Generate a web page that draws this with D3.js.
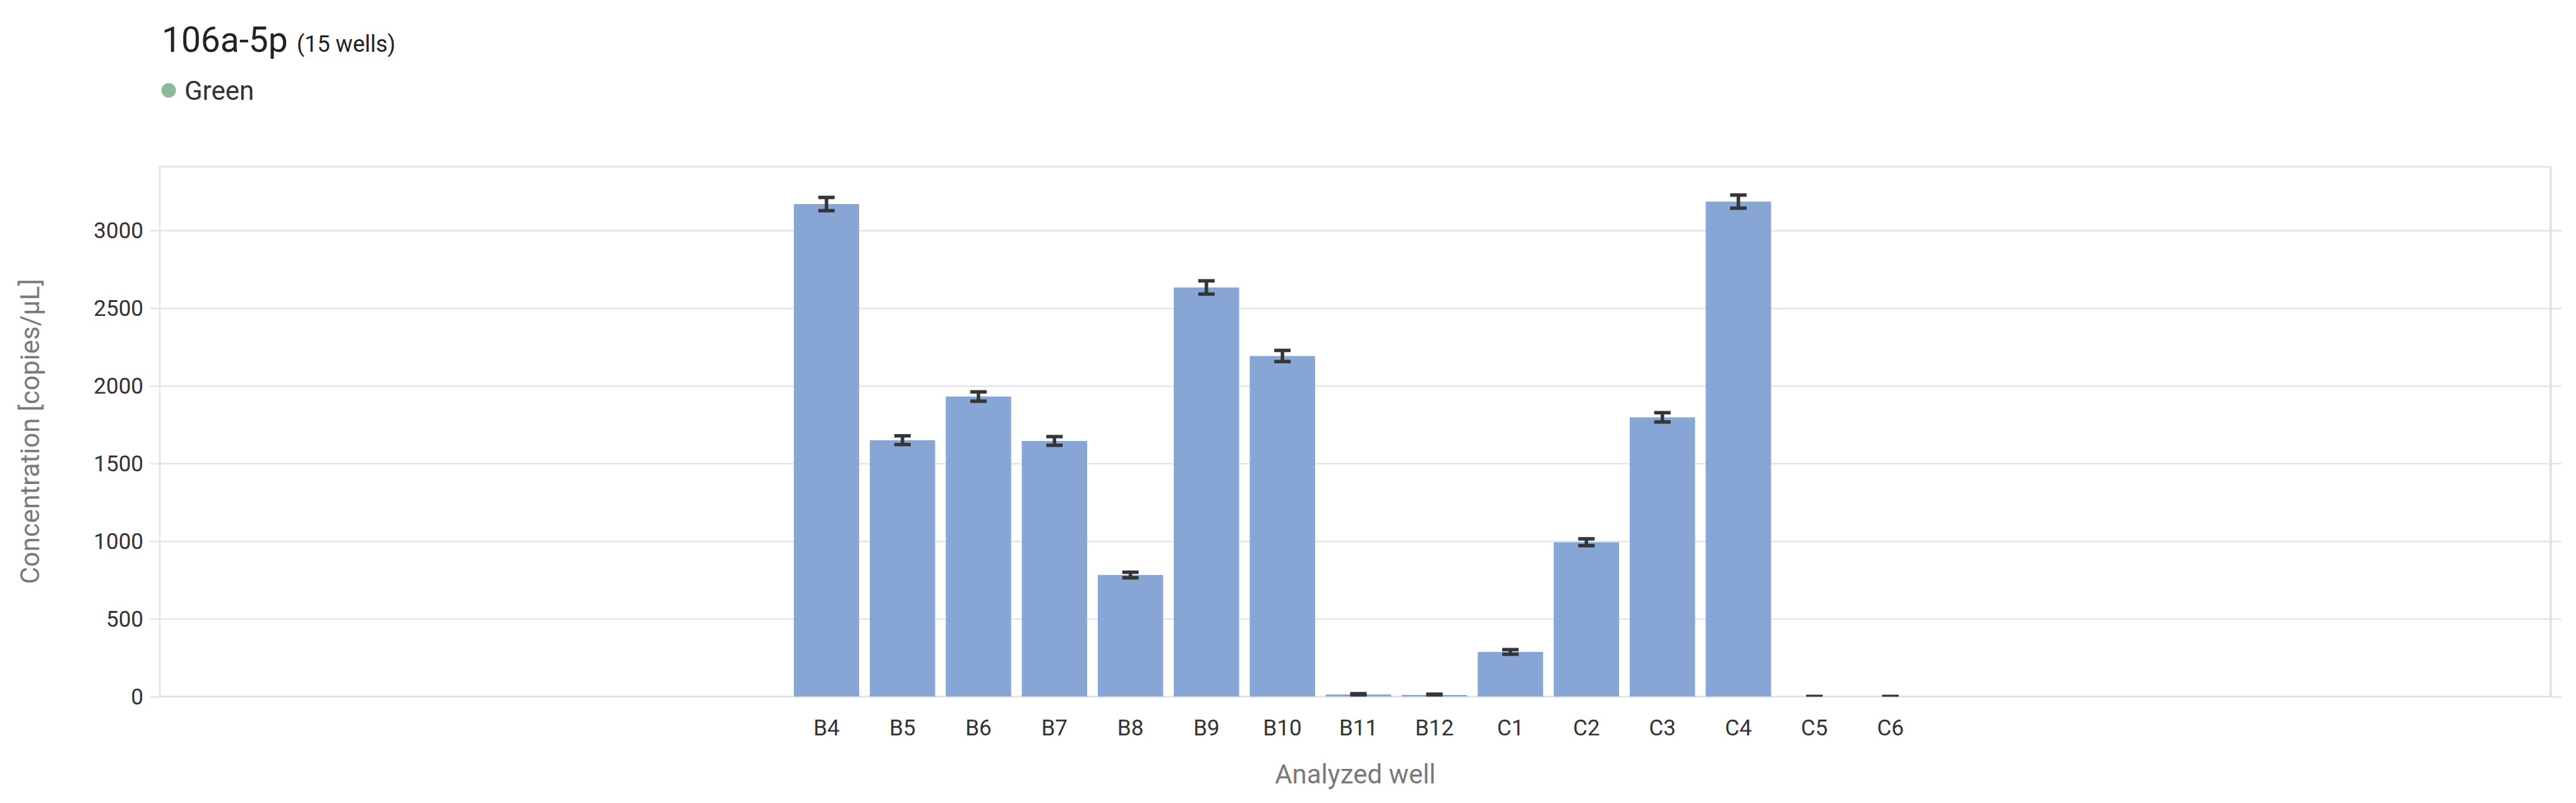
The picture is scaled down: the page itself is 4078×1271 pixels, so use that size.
<!DOCTYPE html>
<html>
<head>
<meta charset="utf-8">
<script src="https://cdn.jsdelivr.net/npm/d3@7"></script>
<style>
  body { margin: 0; background: #fff; }
  text { font-family: Roboto, "Noto Sans", sans-serif; }
</style>
</head>
<body>
<div id="chart"></div>
<script>
// data
const wells = ["B4", "B5", "B6", "B7", "B8", "B9", "B10", "B11", "B12", "C1", "C2", "C3", "C4", "C5", "C6"]
const concentrations = [3170, 1650, 1931, 1645, 782, 2633, 2192, 13, 10, 287, 993, 1797, 3186, 0, 0]
const errors = [43, 28, 30, 28, 18, 43, 36, 5, 5, 15, 22, 30, 42, 0, 0]
const yTicks = [0, 500, 1000, 1500, 2000, 2500, 3000]

class D3Chart {
  constructor(element) {
    // props
    this.width = 4078
    this.height = 1271
    this.left = 253
    this.right = 4038
    this.top = 264
    this.bottom = 1102.4
    this.step = 120.3

    const svg = d3.select(element)
      .append("svg")
      .attr("width", this.width)
      .attr("height", this.height)

    // title
    const title = svg.append("text")
      .attr("x", 256)
      .attr("y", 82)
      .attr("fill", "#222")
    title.append("tspan")
      .attr("font-size", 55)
      .text("106a-5p")
    title.append("tspan")
      .attr("font-size", 36)
      .attr("dx", 14)
      .text("(15 wells)")

    // legend
    svg.append("circle")
      .attr("cx", 267)
      .attr("cy", 143)
      .attr("r", 11.5)
      .attr("fill", "#8db99c")
    svg.append("text")
      .attr("x", 292)
      .attr("y", 158)
      .attr("font-size", 42)
      .attr("fill", "#333")
      .text("Green")

    this.mountChart(svg)
  }

  mountChart(svg) {
    const cx = 2150.5

    const x = d3.scaleBand()
      .domain(wells)
      .range([cx - this.step * wells.length / 2, cx + this.step * wells.length / 2])
      .paddingInner(0.14)
      .paddingOuter(0.07)

    const y = d3.scaleLinear()
      .domain([0, 3410])
      .range([this.bottom, this.top])

    // grid + y axis
    const yAxisGroup = svg.append("g")
      .attr("transform", `translate(${this.left}, 0)`)
      .call(d3.axisLeft(y)
        .tickValues(yTicks)
        .tickFormat(d3.format("d"))
        .tickSizeInner(-(this.right - this.left))
        .tickSizeOuter(0)
        .tickPadding(26))
    yAxisGroup.select(".domain").remove()
    yAxisGroup.selectAll(".tick line")
      .attr("x1", -16)
      .attr("x2", this.right - this.left + 17)
      .attr("stroke", "#e3e5ee")
      .attr("stroke-width", 2.5)
    yAxisGroup.selectAll(".tick text")
      .attr("font-size", 35)
      .attr("font-family", "Roboto")
      .attr("fill", "#333")
      .attr("dy", "0.34em")

    // plot border
    svg.append("rect")
      .attr("x", this.left)
      .attr("y", this.top)
      .attr("width", this.right - this.left)
      .attr("height", this.bottom - this.top)
      .attr("fill", "none")
      .attr("stroke", "#e1e3ec")
      .attr("stroke-width", 2.5)
    svg.append("line")
      .attr("x1", this.right)
      .attr("x2", this.right)
      .attr("y1", this.top)
      .attr("y2", this.bottom)
      .attr("stroke", "#e1e3ec")
      .attr("stroke-width", 4)

    // clip
    svg.append("clipPath")
      .attr("id", "plot-clip")
      .append("rect")
      .attr("x", this.left)
      .attr("y", this.top)
      .attr("width", this.right - this.left)
      .attr("height", this.bottom - this.top)

    const data = wells.map((well, i) => ({ well, value: concentrations[i], err: errors[i] }))

    // bars
    svg.append("g")
      .selectAll("rect")
      .data(data)
      .enter()
      .append("rect")
      .attr("x", d => x(d.well))
      .attr("width", x.bandwidth())
      .attr("y", d => y(d.value))
      .attr("height", d => y(0) - y(d.value))
      .attr("fill", "#87a6d6")

    // error bars
    const errGroup = svg.append("g")
      .attr("clip-path", "url(#plot-clip)")
      .attr("stroke", "#363636")
      .attr("stroke-width", 5.5)
    const bars = errGroup.selectAll("g")
      .data(data)
      .enter()
      .append("g")
      .attr("transform", d => `translate(${x(d.well) + x.bandwidth() / 2}, 0)`)
    bars.append("line")
      .attr("y1", d => y(d.value + d.err))
      .attr("y2", d => y(d.value - d.err))
    bars.append("line")
      .attr("x1", -13).attr("x2", 13)
      .attr("y1", d => y(d.value + d.err))
      .attr("y2", d => y(d.value + d.err))
    bars.append("line")
      .attr("x1", -13).attr("x2", 13)
      .attr("y1", d => y(d.value - d.err))
      .attr("y2", d => y(d.value - d.err))

    // x axis
    const xAxisGroup = svg.append("g")
      .attr("transform", `translate(0, ${this.bottom})`)
      .call(d3.axisBottom(x).tickSize(0).tickPadding(37))
    xAxisGroup.select(".domain").remove()
    xAxisGroup.selectAll(".tick text")
      .attr("font-size", 35)
      .attr("font-family", "Roboto")
      .attr("fill", "#333")

    // axis labels
    svg.append("text")
      .attr("x", (this.left + this.right) / 2)
      .attr("y", 1240)
      .attr("text-anchor", "middle")
      .attr("font-size", 42)
      .attr("fill", "#7a7a7a")
      .text("Analyzed well")

    svg.append("text")
      .attr("transform", "translate(62, 683) rotate(-90)")
      .attr("text-anchor", "middle")
      .attr("font-size", 42)
      .attr("fill", "#7a7a7a")
      .text("Concentration [copies/μL]")
  }
}

new D3Chart("#chart")
</script>
</body>
</html>
